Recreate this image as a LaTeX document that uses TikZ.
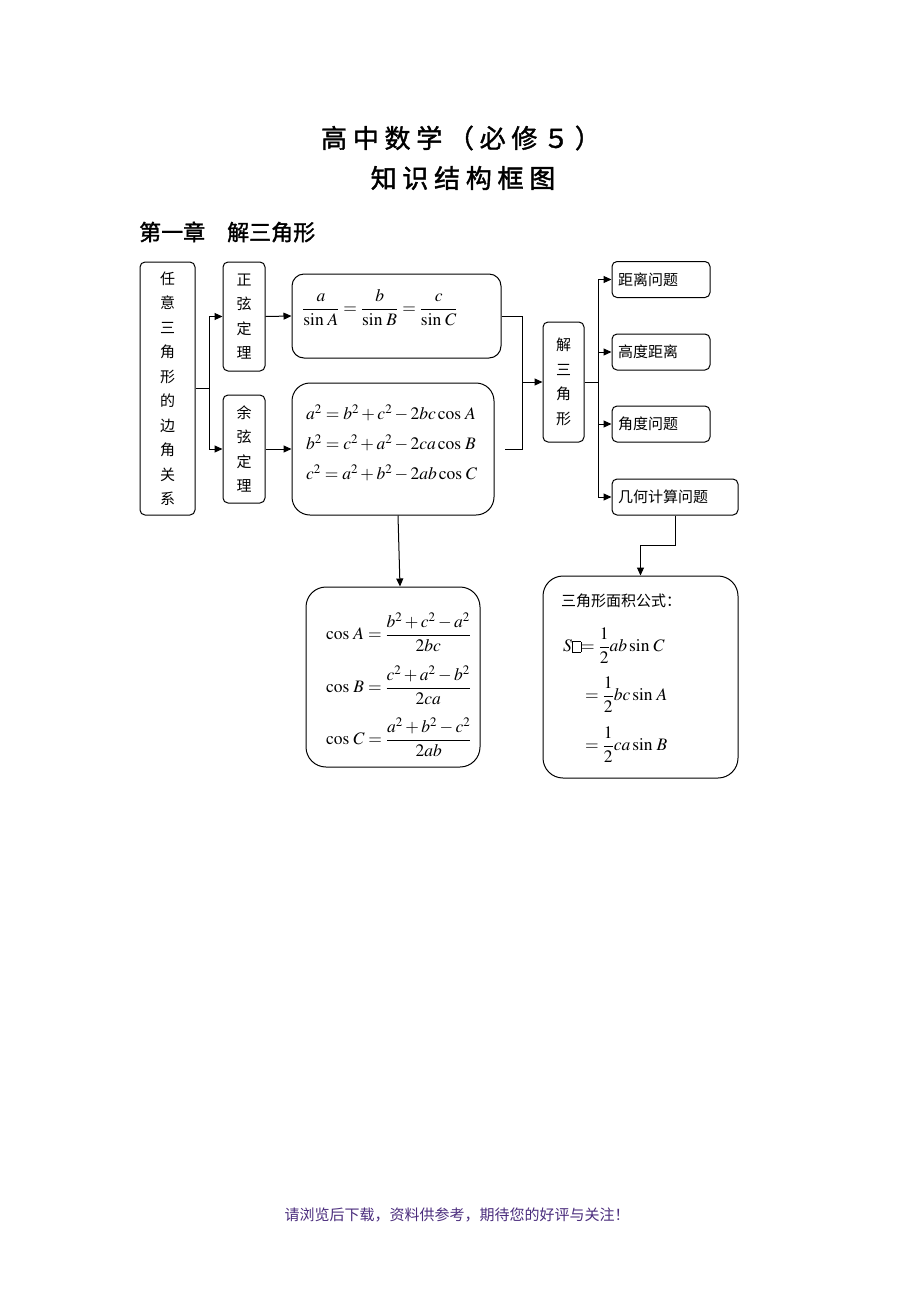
\documentclass[tikz,border=0pt]{standalone}
\usepackage{amsmath}
\usepackage{mathptmx}
\usepackage[no-math]{fontspec}
\setmainfont{Liberation Serif}
\newfontfamily\cjk{Noto Sans CJK SC}
\newfontfamily\titlefont[LetterSpace=22,FakeBold=1.5]{Noto Sans CJK SC}
\newfontfamily\headfont[FakeBold=1.5]{Noto Sans CJK SC}
\usetikzlibrary{arrows.meta,calc}
\definecolor{footc}{RGB}{75,45,125}
\newcommand{\missbox}{\setlength{\fboxsep}{0pt}\setlength{\fboxrule}{0.5pt}\fbox{\rule{0pt}{10pt}\hspace{8pt}}}
\newcommand{\Sin}{\sin\,}
\newcommand{\Cos}{\cos\,}
\begin{document}
\begin{tikzpicture}[x=1pt,y=-1pt,
  box/.style={draw, line width=1pt, rounded corners=5pt, inner sep=0pt},
  vbox/.style={box, font=\cjk\fontsize{15}{24.5}\selectfont, align=center},
  hbox/.style={box, font=\cjk\fontsize{15}{18}\selectfont, align=left, inner xsep=6pt, minimum height=36pt},
  fbox/.style={draw, line width=1pt, inner sep=0pt},
  mth/.style={inner sep=0pt, font=\fontsize{17.5}{21}\selectfont},
  arr/.style={-{Triangle[length=8pt,width=7pt]}, line width=1pt},
  ln/.style={line width=1pt}]
\useasboundingbox (0,0) rectangle (920,1302);
\fill[white] (0,0) rectangle (920,1302);

% titles
\node[inner sep=0pt, font=\titlefont\fontsize{26}{30}\selectfont] (t1) at (461,138) {高中数学（必修５）};
\node[inner sep=0pt, font=\titlefont\fontsize{26}{30}\selectfont] (t2) at (463,178) {知识结构框图};
\node[inner sep=0pt, anchor=west, font=\headfont\fontsize{22}{26}\selectfont] (ch) at (139,232) {第一章　解三角形};

% left boxes
\node[vbox, minimum width=55pt, minimum height=253pt] (b1) at (167.5,388.5) {任\\意\\三\\角\\形\\的\\边\\角\\关\\系};
\node[vbox, minimum width=42pt, minimum height=109pt] (zx) at (244,316.5) {正\\弦\\定\\理};
\node[vbox, minimum width=42pt, minimum height=108pt] (yx) at (244,449) {余\\弦\\定\\理};

% formula boxes
\node[fbox, rounded corners=12pt, minimum width=209pt, minimum height=84pt] (sinebox) at (396.5,316) {};
\node[mth, anchor=west] (sinef) at (302,308) {$\dfrac{a}{\Sin A}=\dfrac{b}{\Sin B}=\dfrac{c}{\Sin C}$};

\node[fbox, rounded corners=18pt, minimum width=202pt, minimum height=132pt] (cosbox) at (393,449) {};
\node[mth, anchor=west, align=left, font=\fontsize{17.5}{30}\selectfont] (cosf) at (306,443)
  {$a^2=b^2+c^2-2bc\Cos A$\\$b^2=c^2+a^2-2ca\Cos B$\\$c^2=a^2+b^2-2ab\Cos C$};

% middle
\node[vbox, minimum width=41pt, minimum height=120pt] (jie) at (563.5,382) {解\\三\\角\\形};

% right boxes
\node[hbox, text width=86pt] (ra) at (661,279.5) {距离问题};
\node[hbox, text width=86pt] (rb) at (661,352) {高度距离};
\node[hbox, text width=86pt] (rc) at (661,424) {角度问题};
\node[hbox, text width=114pt] (rd) at (675,497) {几何计算问题};

% cos fraction box
\node[fbox, rounded corners=20pt, minimum width=174pt, minimum height=180pt] (cosfrac) at (393,677) {};
\node[mth, anchor=west] (ca) at (326,632) {$\Cos A=\dfrac{b^2+c^2-a^2}{2bc}$};
\node[mth, anchor=west] (cb) at (326,685) {$\Cos B=\dfrac{c^2+a^2-b^2}{2ca}$};
\node[mth, anchor=west] (cc) at (326,737) {$\Cos C=\dfrac{a^2+b^2-c^2}{2ab}$};

% area box
\node[fbox, rounded corners=20pt, minimum width=195pt, minimum height=202pt] (area) at (640.5,677) {};
\node[inner sep=0pt, anchor=west, font=\cjk\fontsize{15}{18}\selectfont] (at) at (561,601) {三角形面积公式：};
\node[mth, anchor=west] (s1) at (563,646) {$S$\missbox$=\dfrac{1}{2}ab\Sin C$};
\node[mth, anchor=west] (s2) at (585,695) {$=\dfrac{1}{2}bc\Sin A$};
\node[mth, anchor=west] (s3) at (585,745) {$=\dfrac{1}{2}ca\Sin B$};

% footer
\node[inner sep=0pt, text=footc, font=\cjk\fontsize{15}{18}\selectfont] (foot) at (457,1215) {请浏览后下载，资料供参考，期待您的好评与关注！};

% connectors
\coordinate (j1) at ($(b1.east)+(14,0)$);
\draw[ln] (b1.east) -- (j1);
\draw[arr] (j1) |- (zx.west);
\draw[arr] (j1) |- (yx.west);
\draw[arr] (zx.east) -- (sinebox.west);
\draw[arr] (yx.east) -- (cosbox.west);

\coordinate (j2) at ($(sinebox.east)+(21,0)$);
\draw[ln] (sinebox.east) -- (j2) -- (j2 |- cosbox.east) -- ([xshift=10pt]cosbox.east);
\draw[arr] (j2 |- jie.west) -- (jie.west);

\coordinate (j3) at ($(jie.east)+(14,0)$);
\draw[ln] (jie.east) -- (j3);
\draw[arr] (j3) |- (ra.west);
\draw[arr] (j3) |- (rb.west);
\draw[arr] (j3) |- (rc.west);
\draw[arr] (j3) |- (rd.west);

\draw[arr] ([xshift=5pt]cosbox.south) -- ([xshift=7pt]cosfrac.north);
\draw[arr] (rd.south) -- ++(0,30) -| (area.north);
\end{tikzpicture}
\end{document}
